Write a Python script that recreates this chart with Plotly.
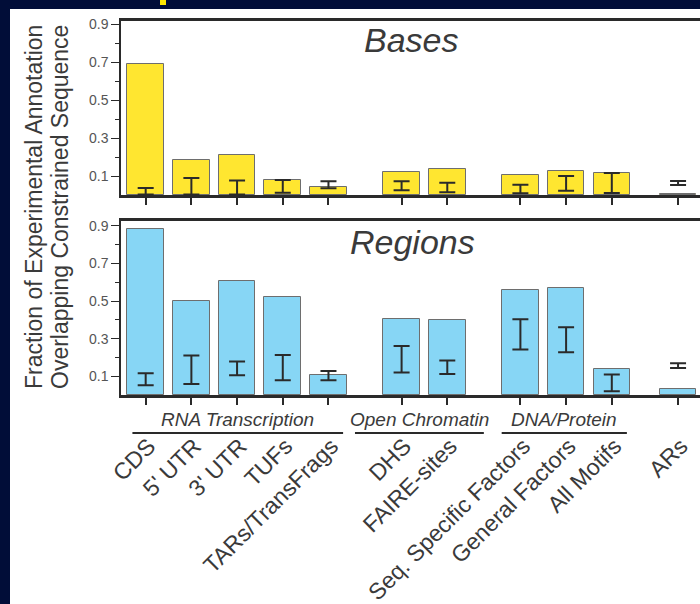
import plotly.graph_objects as go

# ---------------- data ----------------
categories = ["CDS", "5' UTR", "3' UTR", "TUFs", "TARs/TransFrags", "DHS", "FAIRE-sites",
              "Seq. Specific Factors", "General Factors", "All Motifs", "ARs"]
positions = [0, 1, 2, 3, 4, 5.6, 6.6, 8.2, 9.2, 10.2, 11.65]

bases = [0.693, 0.183, 0.209, 0.079, 0.040, 0.119, 0.135, 0.107, 0.125, 0.114, 0.004]
bases_lo = [0.003, 0.003, 0.003, 0.012, 0.035, 0.025, 0.014, 0.009, 0.023, 0.011, 0.053]
bases_hi = [0.037, 0.089, 0.077, 0.079, 0.072, 0.072, 0.065, 0.054, 0.100, 0.116, 0.074]

regions = [0.881, 0.499, 0.606, 0.519, 0.109, 0.407, 0.398, 0.561, 0.570, 0.137, 0.031]
regions_lo = [0.052, 0.059, 0.105, 0.079, 0.079, 0.120, 0.112, 0.242, 0.228, 0.020, 0.144]
regions_hi = [0.116, 0.210, 0.178, 0.213, 0.128, 0.261, 0.184, 0.403, 0.361, 0.109, 0.169]

y_tickvals = [0.1, 0.3, 0.5, 0.7, 0.9]
y_ticktext = ["0.1", "0.3", "0.5", "0.7", "0.9"]
y_minor = [0.2, 0.4, 0.6, 0.8]

groups = ["RNA Transcription", "Open Chromatin", "DNA/Protein"]
group_members = [[0, 1, 2, 3, 4], [5, 6], [7, 8, 9]]

# ---------------- styles ----------------
NAVY = "#010D38"
YELLOW = "rgb(255,230,48)"
BLUE = "rgb(135,214,245)"
DARK = "#2a2a2a"
TXT = "#3a3a3a"
SANS = "Liberation Sans, Arial, Helvetica, sans-serif"
group_pad = [(0.29, 0.32), (1.02, 0.80), (0.41, 0.33)]

W, H = 700, 604
ML, MR, MT, MB = 121, 0, 21, 209
PH = H - MT - MB


def py(pix):
    """pixel row -> paper y"""
    return (H - MB - pix) / PH


def px(pix):
    return (pix - ML) / (W - ML - MR)


fig = go.Figure()

def add_panel(vals, lo, hi, color, xa, ya):
    fig.add_trace(go.Bar(x=positions, y=vals, width=0.8, xaxis=xa, yaxis=ya,
                         marker=dict(color=color, line=dict(color="rgb(110,110,110)", width=1)),
                         showlegend=False, hoverinfo="skip"))
    fig.add_trace(go.Scatter(x=positions, y=lo, xaxis=xa, yaxis=ya, mode="markers",
                             marker=dict(size=1, color="rgba(0,0,0,0)"),
                             error_y=dict(type="data", symmetric=False,
                                          array=[h - l for h, l in zip(hi, lo)],
                                          arrayminus=[0] * len(lo),
                                          color=DARK, thickness=2, width=8),
                             showlegend=False, hoverinfo="skip"))

add_panel(bases, bases_lo, bases_hi, YELLOW, "x", "y")
add_panel(regions, regions_lo, regions_hi, BLUE, "x2", "y2")

xrange = [-0.54, 12.13]
common_x = dict(range=xrange, showgrid=False, zeroline=False, showline=True, linecolor=DARK,
                linewidth=2.5, mirror=True, ticks="outside", ticklen=7, tickwidth=1.5,
                tickcolor=DARK, tickvals=positions, automargin=False)
common_y = dict(showgrid=False, zeroline=False, showline=True, linecolor=DARK, linewidth=1.5,
                ticks="outside", ticklen=8, tickwidth=1, tickcolor=DARK,
                tickvals=y_tickvals, ticktext=y_ticktext, automargin=False,
                tickfont=dict(family=SANS, size=14, color="#555"),
                minor=dict(tickvals=y_minor, ticks="outside", ticklen=4, tickcolor=DARK, tickwidth=1))

top_lo = py(195)
bot_hi = py(221)
fig.update_layout(
    width=W, height=H, margin=dict(l=ML, r=MR, t=MT, b=MB, autoexpand=False),
    paper_bgcolor="white", plot_bgcolor="white", bargap=0,
    xaxis=dict(**common_x, anchor="y", showticklabels=False),
    yaxis=dict(**common_y, domain=[top_lo, 1], range=[0, 0.917]),
    xaxis2=dict(**common_x, anchor="y2", ticktext=categories, tickangle=-45,
                ticklabelstandoff=19, ticklabelshift=3, ticklabeloverflow="allow",
                tickfont=dict(family=SANS, size=23, color=TXT)),
    yaxis2=dict(**common_y, domain=[0, bot_hi], range=[0, 0.926]),
)

shapes = [
    dict(type="rect", xref="paper", yref="paper", x0=px(0), x1=px(10), y0=py(H), y1=py(0),
         fillcolor=NAVY, line=dict(width=0), layer="below"),
    dict(type="rect", xref="paper", yref="paper", x0=px(0), x1=px(W), y0=py(9), y1=py(0),
         fillcolor=NAVY, line=dict(width=0), layer="below"),
    dict(type="rect", xref="paper", yref="paper", x0=px(160), x1=px(166), y0=py(5), y1=py(0),
         fillcolor="rgb(255,230,0)", line=dict(width=0), layer="below"),
]
annotations = []
for name, mem, pad in zip(groups, group_members, group_pad):
    xs = [positions[i] for i in mem]
    x0, x1 = min(xs) - pad[0], max(xs) + pad[1]
    shapes.append(dict(type="line", xref="x2", yref="paper", x0=x0, x1=x1, y0=py(433), y1=py(433),
                       line=dict(color=DARK, width=2)))
    annotations.append(dict(text=name, xref="x2", yref="paper", x=(x0 + x1) / 2, y=py(419),
                            xanchor="center", yanchor="middle", showarrow=False,
                            font=dict(family=SANS, size=19, color=TXT, style="italic")))

annotations += [
    dict(text="Bases", xref="paper", yref="paper", x=px(411.5), y=py(40), showarrow=False,
         xanchor="center", yanchor="middle", font=dict(family=SANS, size=34, color=TXT, style="italic")),
    dict(text="Regions", xref="paper", yref="paper", x=px(412.5), y=py(242), showarrow=False,
         xanchor="center", yanchor="middle", font=dict(family=SANS, size=34, color=TXT, style="italic")),
    dict(text="Fraction of Experimental Annotation", xref="paper", yref="paper", x=px(34), y=py(207),
         textangle=-90, showarrow=False, xanchor="center", yanchor="middle",
         font=dict(family=SANS, size=23, color=TXT)),
    dict(text="Overlapping Constrained Sequence", xref="paper", yref="paper", x=px(60), y=py(207),
         textangle=-90, showarrow=False, xanchor="center", yanchor="middle",
         font=dict(family=SANS, size=23, color=TXT)),
]
fig.update_layout(shapes=shapes, annotations=annotations)

fig.write_html("out.html", post_script="document.body.style.margin='0';",
               config={"displayModeBar": False})
